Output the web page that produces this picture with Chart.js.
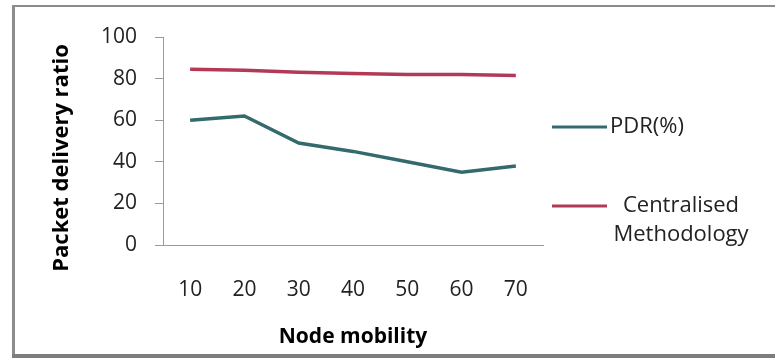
<!DOCTYPE html>
<html>
<head>
<meta charset="utf-8">
<script src="https://cdn.jsdelivr.net/npm/chart.js@4"></script>
<style>
  html, body { margin: 0; padding: 0; background: #ffffff; }
  #wrap { width: 775px; height: 358px; position: relative; }
</style>
</head>
<body>
<div id="wrap"><canvas id="c" width="775" height="358"></canvas></div>
<script>
// Node mobility categories (x axis)
const mobility = ['10', '20', '30', '40', '50', '60', '70'];
// Packet delivery ratio per mobility level
const pdr = [60, 62, 49, 45, 40, 35, 38];
const centralised = [84.5, 84, 83, 82.5, 82, 82, 81.5];
// Series names; legend entries may wrap over several lines
const seriesNames = ['PDR(%)', 'Centralised Methodology'];
const legendLines = [['PDR(%)'], ['Centralised', 'Methodology']];
// Y axis tick values
const yTicks = [0, 20, 40, 60, 80, 100];

const FONT = '"Open Sans", "DejaVu Sans", sans-serif';
const tealLine = '#336a6e';
const redLine = '#b23a57';

// Outer frame of the chart
const framePlugin = {
  id: 'frame',
  beforeDraw(chart) {
    const ctx = chart.ctx;
    ctx.save();
    ctx.fillStyle = '#ffffff';
    ctx.fillRect(0, 0, chart.width, chart.height);
    ctx.strokeStyle = '#8c8c8c';
    ctx.lineWidth = 2;
    ctx.beginPath(); ctx.moveTo(12, 6); ctx.lineTo(775, 6); ctx.stroke();
    ctx.lineWidth = 3;
    ctx.beginPath(); ctx.moveTo(13.5, 5); ctx.lineTo(13.5, 357); ctx.stroke();
    ctx.strokeStyle = '#7d7d7d';
    ctx.lineWidth = 4;
    ctx.beginPath(); ctx.moveTo(12, 356); ctx.lineTo(775, 356); ctx.stroke();
    ctx.restore();
  }
};

// Rotated y axis title, and the legend at the right
const annotatePlugin = {
  id: 'annotate',
  afterDraw(chart) {
    const ctx = chart.ctx;
    ctx.save();
    ctx.fillStyle = '#000000';
    ctx.font = 'bold 22px ' + FONT;
    ctx.textAlign = 'center';
    ctx.textBaseline = 'middle';
    ctx.translate(62, 158);
    ctx.rotate(-Math.PI / 2);
    ctx.fillText('Packet delivery ratio', 0, 0);
    ctx.restore();

    ctx.save();
    ctx.font = '22px ' + FONT;
    ctx.fillStyle = '#222222';
    ctx.textBaseline = 'middle';
    const rows = [127, 206];
    chart.data.datasets.forEach((ds, i) => {
      const y = rows[i];
      ctx.strokeStyle = ds.borderColor;
      ctx.lineWidth = 3;
      ctx.beginPath(); ctx.moveTo(552, y); ctx.lineTo(607, y); ctx.stroke();
      const lines = legendLines[i];
      if (lines.length === 1) {
        ctx.textAlign = 'left';
        ctx.fillText(lines[0], 610, y);
      } else {
        ctx.textAlign = 'center';
        lines.forEach((t, k) => ctx.fillText(t, 681, y + k * 29));
      }
    });
    ctx.restore();
  }
};

new Chart(document.getElementById('c'), {
  type: 'line',
  data: {
    labels: mobility,
    datasets: [
      { label: seriesNames[0], data: pdr, borderColor: tealLine, backgroundColor: tealLine,
        borderWidth: 3.5, pointRadius: 0, tension: 0 },
      { label: seriesNames[1], data: centralised, borderColor: redLine, backgroundColor: redLine,
        borderWidth: 3.5, pointRadius: 0, tension: 0 }
    ]
  },
  options: {
    responsive: false,
    animation: false,
    events: [],
    layout: { padding: { left: 15, top: 37, right: 232, bottom: 5 } },
    plugins: { legend: { display: false }, tooltip: { enabled: false } },
    scales: {
      x: {
        offset: true,
        grid: { display: false },
        border: { display: true, color: '#9a9a9a', width: 1 },
        ticks: { color: '#222222', font: { family: FONT, size: 21 }, padding: 24, maxRotation: 0 },
        title: { display: true, text: 'Node mobility', color: '#000000',
                 font: { family: FONT, size: 21, weight: 'bold' }, padding: { bottom: 3 } },
        afterFit(scale) { scale.height = 108; }
      },
      y: {
        min: 0, max: 100,
        afterBuildTicks(scale) { scale.ticks = yTicks.map(v => ({ value: v })); },
        grid: { display: true, drawOnChartArea: false, drawTicks: true, tickLength: 8, color: '#9a9a9a' },
        border: { display: true, color: '#9a9a9a', width: 1 },
        ticks: { color: '#222222', font: { family: FONT, size: 21 }, padding: 18 },
        afterFit(scale) { scale.width = 148; }
      }
    }
  },
  plugins: [framePlugin, annotatePlugin]
});
</script>
</body>
</html>
